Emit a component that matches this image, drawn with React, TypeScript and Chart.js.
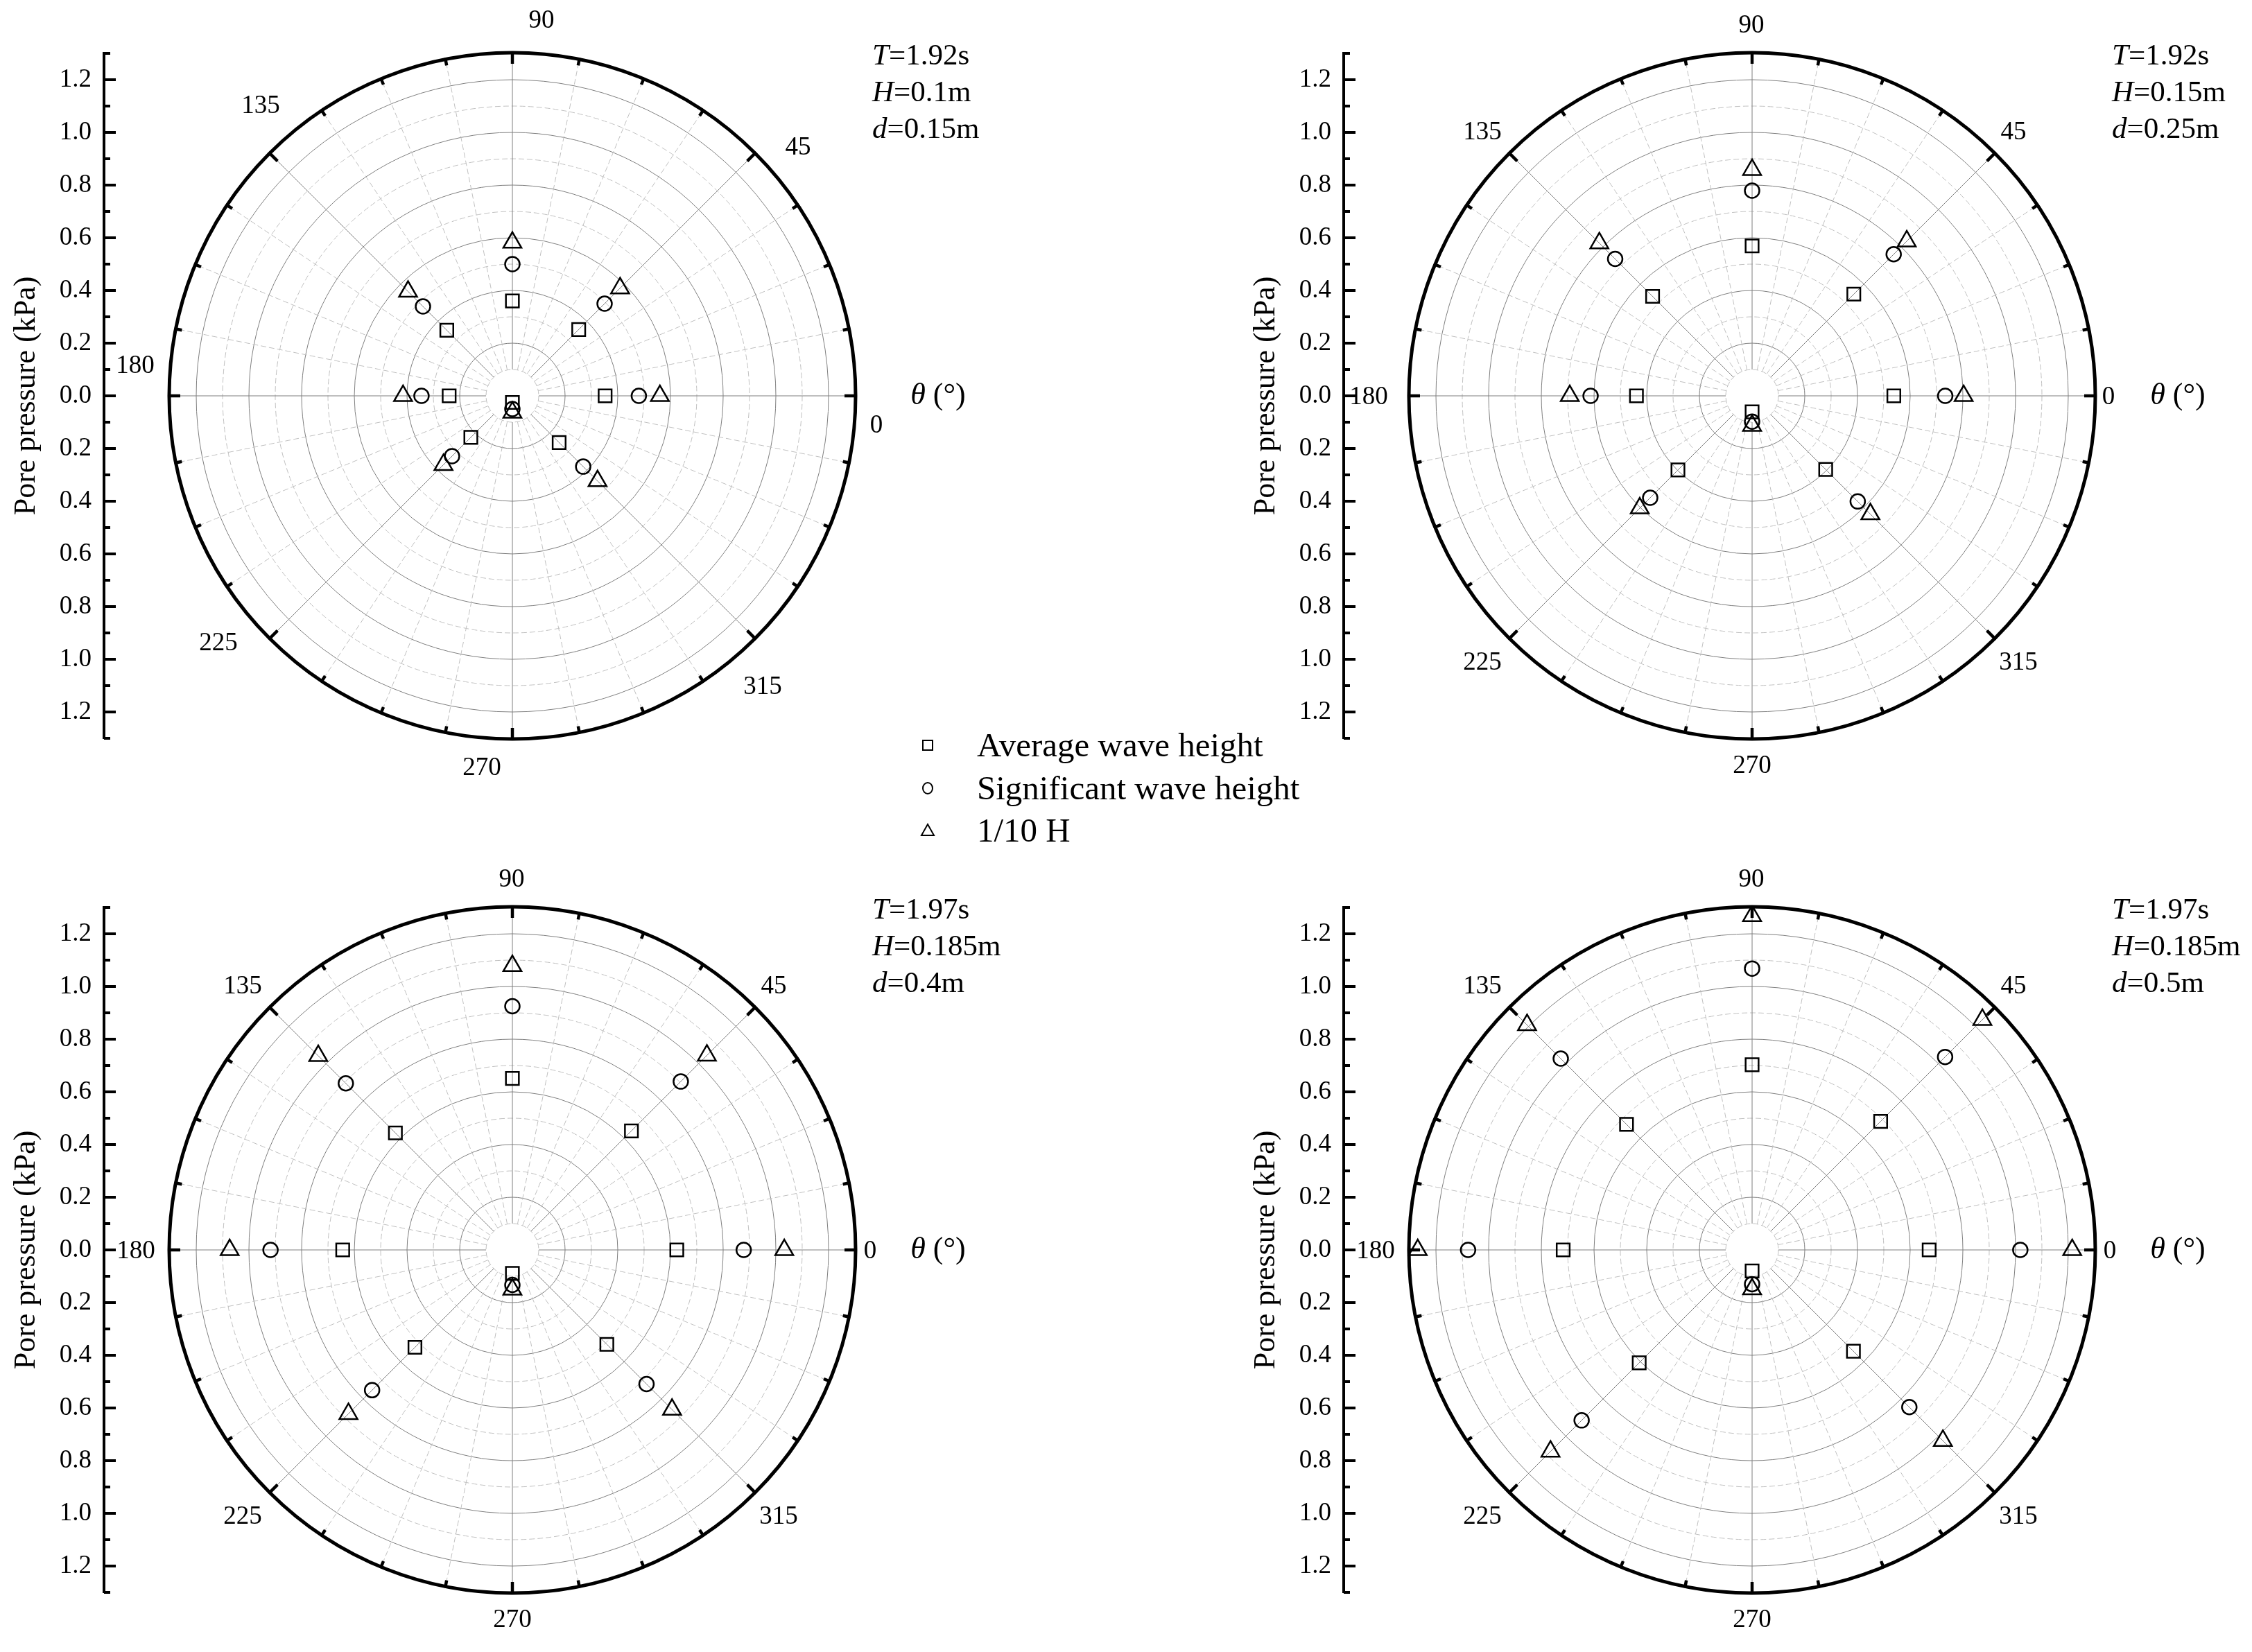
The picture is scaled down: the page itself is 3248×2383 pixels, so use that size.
import React, { useEffect, useRef } from 'react';
import { Chart, registerables } from 'chart.js';

Chart.register(...registerables);

// ---------- data ----------
const ANGLES = [0, 45, 90, 135, 180, 225, 270, 315];
const Y_TICK_STEP = 0.1;
const R_MAX = 1.3;

const SERIES_NAMES = ['Average wave height', 'Significant wave height', '1/10 H'];

// Panel (a): T=1.92s, H=0.1m, d=0.15m
const A_AVG = [0.352, 0.356, 0.36, 0.352, 0.24, 0.223, 0.025, 0.251];
const A_SIG = [0.48, 0.495, 0.5, 0.48, 0.345, 0.324, 0.05, 0.38];
const A_TEN = [0.56, 0.578, 0.582, 0.56, 0.415, 0.37, 0.063, 0.457];

// Panel (b): T=1.92s, H=0.15m, d=0.25m
const B_AVG = [0.538, 0.546, 0.569, 0.534, 0.439, 0.398, 0.061, 0.395];
const B_SIG = [0.733, 0.76, 0.779, 0.735, 0.613, 0.547, 0.098, 0.567];
const B_TEN = [0.803, 0.83, 0.858, 0.82, 0.692, 0.603, 0.113, 0.635];

// Panel (c): T=1.97s, H=0.185m, d=0.4m
const C_AVG = [0.624, 0.639, 0.651, 0.628, 0.644, 0.523, 0.089, 0.507];
const C_SIG = [0.878, 0.904, 0.925, 0.894, 0.918, 0.753, 0.133, 0.72];
const C_TEN = [1.032, 1.044, 1.078, 1.042, 1.073, 0.88, 0.15, 0.857];

// Panel (d): T=1.97s, H=0.185m, d=0.5m
const D_AVG = [0.672, 0.69, 0.703, 0.674, 0.717, 0.606, 0.08, 0.544];
const D_SIG = [1.018, 1.036, 1.068, 1.027, 1.078, 0.915, 0.13, 0.844];
const D_TEN = [1.215, 1.236, 1.268, 1.208, 1.269, 1.082, 0.149, 1.024];

const A_NOTES: [string, string][] = [['T', '=1.92s'], ['H', '=0.1m'], ['d', '=0.15m']];
const B_NOTES: [string, string][] = [['T', '=1.92s'], ['H', '=0.15m'], ['d', '=0.25m']];
const C_NOTES: [string, string][] = [['T', '=1.97s'], ['H', '=0.185m'], ['d', '=0.4m']];
const D_NOTES: [string, string][] = [['T', '=1.97s'], ['H', '=0.185m'], ['d', '=0.5m']];

// ---------- layout ----------
const FONT = '"Liberation Serif", "Times New Roman", serif';
const CW = 1460;
const CH = 1150;
const CX = 739;
const CY = 571;
const AXIS_X = 150;
const OUTER_PX = 494;
const PAD_TOP = CY - OUTER_PX;
const PAD_BOTTOM = CH - (CY + OUTER_PX);

// label offsets (relative to the pole) for angle labels, same order as ANGLES
const LABEL_POS_STD = [
  [516, 2], [377, -380], [-1, -534], [-389, -380],
  [-543, 2], [-389, 385], [0, 534], [384, 385],
];
const LABEL_POS_TR = [
  [514, 2], [377, -380], [-1, -534], [-389, -380],
  [-553, 2], [-389, 385], [0, 534], [384, 385],
];
const LABEL_POS_ROT = [
  [525, 43], [412, -358], [42, -541], [-363, -418],
  [-544, -43], [-424, 357], [-44, 537], [361, 420],
];

type PanelProps = {
  left: number;
  top: number;
  avg: number[];
  sig: number[];
  ten: number[];
  notes: [string, string][];
  labelPos: number[][];
};

function Panel({ left, top, avg, sig, ten, notes, labelPos }: PanelProps) {
  const ref = useRef<HTMLCanvasElement>(null);

  useEffect(() => {
    const canvas = ref.current;
    if (!canvas) return;
    const unitPx = (CH - PAD_TOP - PAD_BOTTOM) / (2 * R_MAX);
    const xMin = -(CX - AXIS_X) / unitPx;
    const xMax = (CW - CX) / unitPx;

    const toXY = (vals: number[]) =>
      vals.map((r, i) => ({
        x: r * Math.cos((ANGLES[i] * Math.PI) / 180),
        y: r * Math.sin((ANGLES[i] * Math.PI) / 180),
      }));

    const polarPlugin = {
      id: 'polarGrid',
      afterLayout(chart: any) {
        // keep the x scale isotropic with the y scale and the pole at CX
        const xs = chart.scales.x;
        const ca = chart.chartArea;
        const unit = (ca.bottom - ca.top) / (2 * R_MAX);
        xs.min = -(CX - ca.left) / unit;
        xs.max = (ca.right - CX) / unit;
        xs.configure();
      },
      beforeDatasetsDraw(chart: any) {
        const { ctx } = chart;
        const xs = chart.scales.x;
        const ys = chart.scales.y;
        const cx = xs.getPixelForValue(0);
        const cy = ys.getPixelForValue(0);
        const rad = (v: number) => cy - ys.getPixelForValue(v);
        ctx.save();
        // circles
        for (let k = 1; k <= 12; k++) {
          const r = rad(k * Y_TICK_STEP);
          ctx.beginPath();
          ctx.arc(cx, cy, r, 0, Math.PI * 2);
          if (k % 2 === 0) {
            ctx.setLineDash([]);
            ctx.strokeStyle = '#7f7f7f';
          } else {
            ctx.setLineDash([8, 4]);
            ctx.strokeStyle = '#c0c0c0';
          }
          ctx.lineWidth = 1;
          ctx.stroke();
        }
        // radial lines
        const r0 = rad(0.1);
        const r1 = rad(R_MAX);
        for (let i = 0; i < 32; i++) {
          const a = (i * Math.PI) / 16;
          ctx.beginPath();
          ctx.moveTo(cx + r0 * Math.cos(a), cy - r0 * Math.sin(a));
          ctx.lineTo(cx + r1 * Math.cos(a), cy - r1 * Math.sin(a));
          if (i % 4 === 0) {
            ctx.setLineDash([]);
            ctx.strokeStyle = '#7f7f7f';
          } else {
            ctx.setLineDash([8, 4]);
            ctx.strokeStyle = '#c0c0c0';
          }
          ctx.lineWidth = 1;
          ctx.stroke();
        }
        // outer circle
        ctx.setLineDash([]);
        const ro = r1 + 1;
        ctx.beginPath();
        ctx.arc(cx, cy, ro, 0, Math.PI * 2);
        ctx.strokeStyle = '#000';
        ctx.lineWidth = 5;
        ctx.stroke();
        // ticks on the outer circle (inward)
        for (let i = 0; i < 32; i++) {
          const a = (i * Math.PI) / 16;
          const len = i % 4 === 0 ? 16 : 9;
          ctx.beginPath();
          ctx.moveTo(cx + (ro + 2) * Math.cos(a), cy - (ro + 2) * Math.sin(a));
          ctx.lineTo(cx + (ro - len) * Math.cos(a), cy - (ro - len) * Math.sin(a));
          ctx.lineWidth = 4.5;
          ctx.stroke();
        }
        ctx.restore();
      },
      afterDraw(chart: any) {
        const { ctx } = chart;
        const xs = chart.scales.x;
        const ys = chart.scales.y;
        const cx = xs.getPixelForValue(0);
        const cy = ys.getPixelForValue(0);
        ctx.save();
        // inward ticks on y axis
        ctx.strokeStyle = '#000';
        ctx.lineWidth = 4;
        for (const t of ys.ticks) {
          const k = Math.round(t.value * 10);
          const y = ys.getPixelForValue(t.value);
          const len = k % 2 === 0 ? 17 : 9;
          ctx.beginPath();
          ctx.moveTo(ys.right, y);
          ctx.lineTo(ys.right + len, y);
          ctx.stroke();
        }
        // angle labels
        ctx.fillStyle = '#000';
        ctx.font = `37px ${FONT}`;
        ctx.textAlign = 'center';
        ctx.textBaseline = 'middle';
        ANGLES.forEach((a, i) => {
          const [dx, dy] = labelPos[i];
          ctx.fillText(String(a), cx + dx, cy + dy);
        });
        // theta label
        ctx.textAlign = 'left';
        ctx.font = `italic 44px ${FONT}`;
        const w1 = ctx.measureText('\u03b8').width;
        ctx.font = `44px ${FONT}`;
        const w2 = ctx.measureText(' (\u00b0)').width;
        const tx = cx + 614 - (w1 + w2) / 2;
        ctx.font = `italic 44px ${FONT}`;
        ctx.fillText('\u03b8', tx, cy);
        ctx.font = `44px ${FONT}`;
        ctx.fillText(' (\u00b0)', tx + w1, cy);
        // notes
        notes.forEach(([it, rest], j) => {
          const y = cy - 489 + j * 53;
          const x = cx + 519;
          ctx.font = `italic 43px ${FONT}`;
          ctx.fillText(it, x, y);
          const w = ctx.measureText(it).width;
          ctx.font = `43px ${FONT}`;
          ctx.fillText(rest, x + w, y);
        });
        ctx.restore();
      },
    };

    const ds = (label: string, vals: number[], style: string, radius: number) => ({
      label,
      data: toXY(vals),
      showLine: false,
      pointStyle: style,
      pointRadius: radius,
      pointHoverRadius: radius,
      pointBorderWidth: 2.5,
      pointBorderColor: '#000',
      pointBackgroundColor: 'rgba(0,0,0,0)',
      borderColor: '#000',
      backgroundColor: 'rgba(0,0,0,0)',
    });

    const chart = new Chart(canvas, {
      type: 'scatter',
      data: {
        datasets: [
          ds(SERIES_NAMES[0], avg, 'rect', 13.2),
          ds(SERIES_NAMES[1], sig, 'circle', 10.5),
          ds(SERIES_NAMES[2], ten, 'triangle', 15),
        ],
      },
      options: {
        animation: false,
        responsive: false,
        maintainAspectRatio: false,
        layout: { padding: { left: 0, right: 0, top: PAD_TOP, bottom: PAD_BOTTOM } },
        plugins: {
          legend: { display: false },
          tooltip: { enabled: false },
        },
        events: [],
        scales: {
          x: { type: 'linear', display: false, min: xMin, max: xMax },
          y: {
            type: 'linear',
            position: 'left',
            min: -R_MAX,
            max: R_MAX,
            grid: { display: false, drawTicks: false },
            border: { display: true, width: 4, color: '#000' },
            ticks: {
              stepSize: Y_TICK_STEP,
              autoSkip: false,
              padding: 18,
              color: '#000',
              font: { family: FONT, size: 37 },
              callback: (v: any) => {
                const k = Math.round(Number(v) * 10);
                return k % 2 === 0 && Math.abs(k) <= 12 ? Math.abs(Number(v)).toFixed(1) : '';
              },
            },
            title: {
              display: true,
              text: 'Pore pressure (kPa)',
              color: '#000',
              font: { family: FONT, size: 44 },
              padding: { top: 12, bottom: 0 },
            },
            afterFit: (scale: any) => {
              scale.width = AXIS_X;
            },
          },
        },
      } as any,
      plugins: [polarPlugin],
    });
    return () => chart.destroy();
  }, []);

  return (
    <canvas
      ref={ref}
      width={CW}
      height={CH}
      style={{ position: 'absolute', left, top, width: CW, height: CH }}
    />
  );
}

function LegendMark({ kind }: { kind: string }) {
  return (
    <svg width={28} height={28} viewBox="0 0 28 28" style={{ position: 'absolute', left: -14, top: -14 }}>
      {kind === 'rect' && <rect x={7} y={7} width={14} height={14} fill="none" stroke="#000" strokeWidth={2} />}
      {kind === 'circle' && <ellipse cx={14} cy={14} rx={7} ry={8} fill="none" stroke="#000" strokeWidth={2} />}
      {kind === 'triangle' && <polygon points="14,5 23,21 5,21" fill="none" stroke="#000" strokeWidth={2} />}
    </svg>
  );
}

export default function App() {
  const legendRows = [
    { kind: 'rect', y: 1075 },
    { kind: 'circle', y: 1137 },
    { kind: 'triangle', y: 1198 },
  ];
  return (
    <div
      style={{
        position: 'absolute',
        left: 0,
        top: 0,
        width: 3248,
        height: 2383,
        background: '#fff',
        overflow: 'hidden',
      }}
    >
      <Panel left={0} top={0} avg={A_AVG} sig={A_SIG} ten={A_TEN} notes={A_NOTES} labelPos={LABEL_POS_ROT} />
      <Panel left={1788} top={0} avg={B_AVG} sig={B_SIG} ten={B_TEN} notes={B_NOTES} labelPos={LABEL_POS_TR} />
      <Panel left={0} top={1232} avg={C_AVG} sig={C_SIG} ten={C_TEN} notes={C_NOTES} labelPos={LABEL_POS_STD} />
      <Panel left={1788} top={1232} avg={D_AVG} sig={D_SIG} ten={D_TEN} notes={D_NOTES} labelPos={LABEL_POS_STD} />
      {legendRows.map((r, i) => (
        <div key={i}>
          <div style={{ position: 'absolute', left: 1338, top: r.y }}>
            <LegendMark kind={r.kind} />
          </div>
          <div
            style={{
              position: 'absolute',
              left: 1409,
              top: r.y - 30,
              height: 60,
              lineHeight: '60px',
              fontFamily: FONT,
              fontSize: 49,
              color: '#000',
              whiteSpace: 'nowrap',
            }}
          >
            {SERIES_NAMES[i]}
          </div>
        </div>
      ))}
    </div>
  );
}
